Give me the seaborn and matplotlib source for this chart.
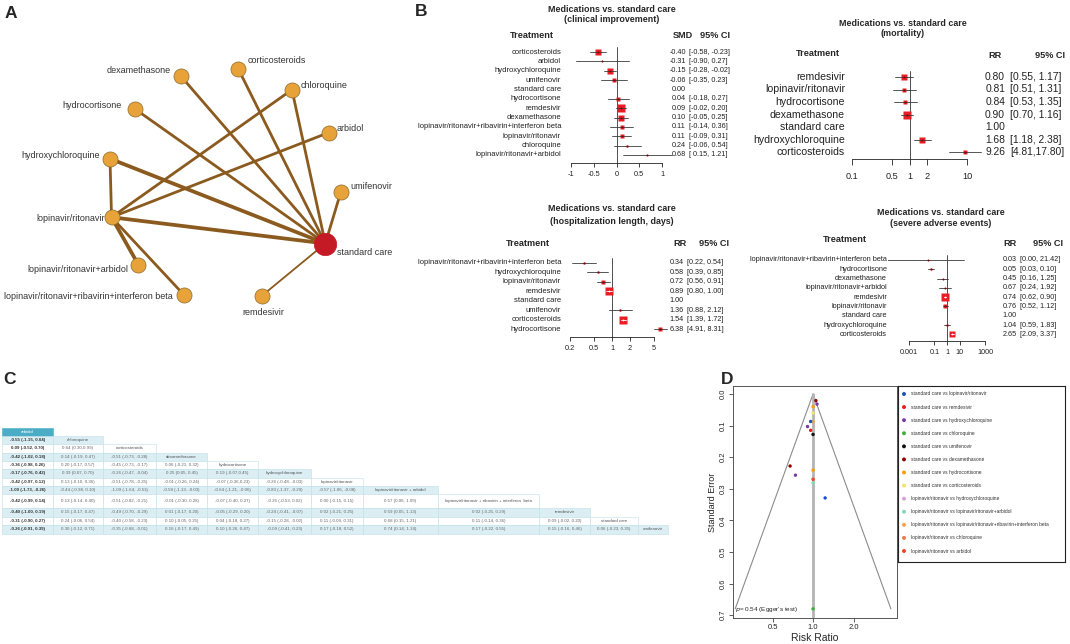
import matplotlib
matplotlib.use("Agg")
import matplotlib.pyplot as plt
import matplotlib.transforms as mtransforms
from matplotlib.patches import Rectangle
import seaborn as sns
import pandas as pd
import numpy as np

W, H = 1070, 644
nan = np.nan

# ---------------- data ----------------
# A: network (treatments in alphabetical order around the circle)
treatments = ["arbidol", "chloroquine", "corticosteroids", "dexamethasone", "hydrocortisone",
              "hydroxychloroquine", "lopinavir/ritonavir", "lopinavir/ritonavir+arbidol",
              "lopinavir/ritonavir+ribavirin+interferon beta", "remdesivir", "standard care", "umifenovir"]
edge_from = ["standard care"] * 8 + ["lopinavir/ritonavir"] * 5
edge_to = ["dexamethasone", "corticosteroids", "chloroquine", "hydrocortisone", "hydroxychloroquine",
           "umifenovir", "lopinavir/ritonavir", "remdesivir",
           "hydroxychloroquine", "chloroquine", "arbidol", "lopinavir/ritonavir+arbidol",
           "lopinavir/ritonavir+ribavirin+interferon beta"]
edge_studies = [2, 2, 2, 2, 3, 2, 3, 1, 2, 2, 2, 3, 2]

# B1: clinical improvement (SMD)
ci_trt = ["corticosteroids", "arbidol", "hydroxychloroquine", "umifenovir", "standard care",
          "hydrocortisone", "remdesivir", "dexamethasone",
          "lopinavir/ritonavir+ribavirin+interferon beta", "lopinavir/ritonavir", "chloroquine",
          "lopinavir/ritonavir+arbidol"]
ci_est = [-0.40, -0.31, -0.15, -0.06, 0.00, 0.04, 0.09, 0.10, 0.11, 0.11, 0.24, 0.68]
ci_lo = [-0.58, -0.90, -0.28, -0.35, nan, -0.18, -0.02, -0.05, -0.14, -0.09, -0.06, 0.15]
ci_hi = [-0.23, 0.27, -0.02, 0.23, nan, 0.27, 0.20, 0.25, 0.36, 0.31, 0.54, 1.21]

# B2: mortality (RR)
mort_trt = ["remdesivir", "lopinavir/ritonavir", "hydrocortisone", "dexamethasone", "standard care",
            "hydroxychloroquine", "corticosteroids"]
mort_est = [0.80, 0.81, 0.84, 0.90, 1.00, 1.68, 9.26]
mort_lo = [0.55, 0.51, 0.53, 0.70, nan, 1.18, 4.81]
mort_hi = [1.17, 1.31, 1.35, 1.16, nan, 2.38, 17.80]

# B3: hospitalization length (RR)
hosp_trt = ["lopinavir/ritonavir+ribavirin+interferon beta", "hydroxychloroquine", "lopinavir/ritonavir",
            "remdesivir", "standard care", "umifenovir", "corticosteroids", "hydrocortisone"]
hosp_est = [0.34, 0.58, 0.72, 0.89, 1.00, 1.36, 1.54, 6.38]
hosp_lo = [0.22, 0.39, 0.56, 0.80, nan, 0.88, 1.39, 4.91]
hosp_hi = [0.54, 0.85, 0.91, 1.00, nan, 2.12, 1.72, 8.31]

# B4: severe adverse events (RR)
sae_trt = ["lopinavir/ritonavir+ribavirin+interferon beta", "hydrocortisone", "dexamethasone",
           "lopinavir/ritonavir+arbidol", "remdesivir", "lopinavir/ritonavir", "standard care",
           "hydroxychloroquine", "corticosteroids"]
sae_est = [0.03, 0.05, 0.45, 0.67, 0.74, 0.76, 1.00, 1.04, 2.65]
sae_lo = [0.000004, 0.03, 0.16, 0.24, 0.62, 0.52, nan, 0.59, 2.09]
sae_hi = [21.42, 0.10, 1.25, 1.92, 0.90, 1.12, nan, 1.83, 3.37]

# C: league table (lower triangle, row by row)
league = [
    ["-0.55 (-1.15, 0.04)"],
    ["0.09 (-0.52, 0.70)", "0.64 (0.30,0.99)"],
    ["-0.42 (-1.02, 0.18)", "0.14 (-0.19, 0.47)", "-0.51 (-0.73, -0.28)"],
    ["-0.36 (-0.98, 0.26)", "0.20 (-0.17, 0.57)", "-0.45 (-0.73, -0.17)", "0.06 (-0.21, 0.32)"],
    ["-0.17 (-0.76, 0.42)", "0.39 (0.07, 0.70)", "-0.26 (-0.47, -0.04)", "0.25 (0.05, 0.45)",
     "0.19 (-0.07,0.45)"],
    ["-0.42 (-0.97, 0.12)", "0.13 (-0.10, 0.36)", "-0.51 (-0.78, -0.25)", "-0.01 (-0.26, 0.24)",
     "-0.07 (-0.36,0.23)", "-0.26 (-0.48, -0.03)"],
    ["-1.00 (-1.73, -0.26)", "-0.44 (-0.98, 0.10)", "-1.09 (-1.64, -0.53)", "-0.58 (-1.13, -0.03)",
     "-0.64 (-1.21, -0.06)", "-0.83 (-1.37, -0.29)", "-0.57 (-1.06, -0.08)"],
    ["-0.42 (-0.99, 0.14)", "0.13 (-0.14, 0.40)", "-0.51 (-0.82, -0.21)", "-0.01 (-0.30, 0.28)",
     "-0.07 (-0.40, 0.27)", "-0.26 (-0.53, 0.02)", "0.00 (-0.15, 0.15)", "0.57 (0.06, 1.09)"],
    ["-0.40 (-1.00, 0.19)", "0.15 (-0.17, 0.47)", "-0.49 (-0.70, -0.29)", "0.01 (-0.17, 0.20)",
     "-0.05 (-0.29, 0.20)", "-0.24 (-0.41, -0.07)", "0.02 (-0.21, 0.25)", "0.59 (0.05, 1.13)",
     "0.02 (-0.25, 0.29)"],
    ["-0.31 (-0.90, 0.27)", "0.24 (-0.06, 0.54)", "-0.40 (-0.58, -0.23)", "0.10 (-0.05, 0.25)",
     "0.04 (-0.18, 0.27)", "-0.15 (-0.28, -0.02)", "0.11 (-0.09, 0.31)", "0.68 (0.15, 1.21)",
     "0.11 (-0.14, 0.36)", "0.09 (-0.02, 0.20)"],
    ["-0.26 (-0.91, 0.39)", "0.30 (-0.12, 0.71)", "-0.35 (-0.68, -0.01)", "0.16 (-0.17, 0.49)",
     "0.10 (-0.26, 0.47)", "-0.09 (-0.41, 0.23)", "0.17 (-0.18, 0.52)", "0.74 (0.14, 1.34)",
     "0.17 (-0.22, 0.55)", "0.15 (-0.16, 0.46)", "0.06 (-0.23, 0.35)"],
]
league_heads = ["arbidol", "chloroquine", "corticosteroids", "dexamethasone", "hydrocortisone",
                "hydroxychloroquine", "lopinavir/ritonavir", "lopinavir/ritonavir + arbidol",
                "lopinavir/ritonavir + ribavirin + interferon  beta", "remdesivir", "standard care",
                "umifenovir"]

# D: funnel plot
comparisons = ["standard care vs lopinavir/ritonavir", "standard care vs remdesivir",
               "standard care vs hydroxychloroquine", "standard care vs chloroquine",
               "standard care vs umifenovir", "standard care vs dexamethasone",
               "standard care vs hydrocortisone", "standard care vs corticosteroids",
               "lopinavir/ritonavir vs hydroxychloroquine",
               "lopinavir/ritonavir vs lopinavir/ritonavir+arbidol",
               "lopinavir/ritonavir vs lopinavir/ritonavir+ribavirin+interferon beta",
               "lopinavir/ritonavir vs chloroquine", "lopinavir/ritonavir vs arbidol"]
funnel_cmp = ["standard care vs dexamethasone", "standard care vs hydroxychloroquine",
              "standard care vs hydrocortisone",
              "lopinavir/ritonavir vs lopinavir/ritonavir+ribavirin+interferon beta",
              "standard care vs lopinavir/ritonavir", "standard care vs hydroxychloroquine",
              "standard care vs remdesivir", "standard care vs umifenovir",
              "standard care vs dexamethasone", "standard care vs hydroxychloroquine",
              "standard care vs hydrocortisone", "lopinavir/ritonavir vs arbidol",
              "lopinavir/ritonavir vs lopinavir/ritonavir+arbidol",
              "standard care vs lopinavir/ritonavir", "standard care vs chloroquine",
              "standard care vs corticosteroids"]
funnel_rr = [1.05, 1.07, 1.00, 1.00, 0.96, 0.91, 0.96, 1.00, 0.675, 0.74, 1.00, 1.00, 1.00, 1.23, 1.00, 1.00]
funnel_se = [0.021, 0.032, 0.040, 0.088, 0.087, 0.103, 0.115, 0.128, 0.228, 0.257, 0.241, 0.270,
             0.282, 0.329, 0.680, 0.060]
egger_p = 0.54
funnel_se_max = 0.68

# ---------------- styling ----------------
cmp_colors = ["#1c4fc4", "#f01a1a", "#7a3aa8", "#3cb034", "#111111", "#990000", "#ff9a00",
              "#f2e36a", "#d9a0d8", "#86d7b8", "#f5a04a", "#f2784a", "#ee4422"]
palette = dict(zip(comparisons, cmp_colors))

sns.set_theme(style="white")
plt.rcParams['font.family'] = ['Liberation Sans', 'DejaVu Sans']

fig = plt.figure(figsize=(W / 100, H / 100), dpi=100, facecolor='white')


def fx(px):
    return px / W


def fy(py):
    return 1 - py / H


def pixel_axes(x0, y0, x1, y1):
    ax = fig.add_axes([fx(x0), fy(y1), (x1 - x0) / W, (y1 - y0) / H])
    ax.set_xlim(x0, x1)
    ax.set_ylim(y1, y0)
    ax.axis('off')
    return ax


# panel letters
for letter, (lx, ly) in {"A": (11, 14), "B": (421, 12), "C": (10, 379), "D": (727, 379)}.items():
    fig.text(fx(lx), fy(ly), letter, fontsize=12.5, fontweight='bold', ha='center', va='center')

# ---------------- A: network ----------------
axA = pixel_axes(0, 30, 420, 340)
node_angle = {"arbidol": 26.6, "chloroquine": 54.5, "corticosteroids": 83, "dexamethasone": 111.6,
              "hydrocortisone": 139.5, "hydroxychloroquine": 167, "lopinavir/ritonavir": 196,
              "lopinavir/ritonavir+arbidol": 223,
              "lopinavir/ritonavir+ribavirin+interferon beta": 250, "remdesivir": 289,
              "standard care": 330, "umifenovir": 356.5}
cx, cy, rad = 224, 185, 117
pos = {t: (cx + rad * np.cos(np.radians(a)), cy - rad * np.sin(np.radians(a))) for t, a in node_angle.items()}
for a, b, n in zip(edge_from, edge_to, edge_studies):
    axA.plot([pos[a][0], pos[b][0]], [pos[a][1], pos[b][1]], color='#8b5a1e',
             lw=0.6 + 0.7 * n, solid_capstyle='butt', zorder=1)
nodes = pd.DataFrame({"x": [pos[t][0] for t in treatments], "y": [pos[t][1] for t in treatments],
                      "hub": [t == "standard care" for t in treatments]})
sns.scatterplot(data=nodes[~nodes.hub], x="x", y="y", s=118, color='#e8a23a', edgecolor='#8a6a2a',
                linewidth=0.5, ax=axA, zorder=2, legend=False)
sns.scatterplot(data=nodes[nodes.hub], x="x", y="y", s=260, color='#c31a26', edgecolor='#c31a26',
                linewidth=0.5, ax=axA, zorder=2, legend=False)
axA.axis('off')
label_place = {"dexamethasone": ('right', -10, -6), "corticosteroids": ('left', 9, -8),
               "chloroquine": ('left', 9, -4), "hydrocortisone": ('right', -13, -4),
               "arbidol": ('left', 8, -4), "hydroxychloroquine": ('right', -10, -3),
               "umifenovir": ('left', 10, -6), "lopinavir/ritonavir": ('right', -7, 1),
               "standard care": ('left', 12, 9), "lopinavir/ritonavir+arbidol": ('right', -10, 5),
               "lopinavir/ritonavir+ribavirin+interferon beta": ('right', -11, 2),
               "remdesivir": ('center', 1, 17)}
for t in treatments:
    ha, dx, dy = label_place[t]
    axA.text(pos[t][0] + dx, pos[t][1] + dy, t, ha=ha, va='center', fontsize=6.5, color='#333333')


# ---------------- B: forest plots ----------------
def forest(trt, est, lo, hi, sp):
    log = sp['log']
    f = np.log10 if log else (lambda v: v)
    (v1, p1), (v2, p2) = sp['xmap']
    slope = (p2 - p1) / (f(v2) - f(v1))

    def inv(p):
        t = f(v1) + (p - p1) / slope
        return 10 ** t if log else t

    L, R = sp['span']
    top, axis_y, row0, dy = sp['top'], sp['axis_y'], sp['row0'], sp['dy']
    ax = fig.add_axes([fx(L), fy(axis_y), (R - L) / W, (axis_y - top) / H])
    ax.patch.set_alpha(0)
    if log:
        ax.set_xscale('log')
    ax.set_xlim(inv(L), inv(R))
    ybot = (axis_y - row0) / dy
    ax.set_ylim(ybot, (top - row0) / dy)
    for s in ['left', 'right', 'top']:
        ax.spines[s].set_visible(False)
    ax.spines['bottom'].set_bounds(sp['ticks'][0], sp['ticks'][-1])
    ax.spines['bottom'].set_linewidth(0.6)
    ax.spines['bottom'].set_color('#222222')
    ax.set_xticks(sp['ticks'])
    ax.set_xticklabels(sp['ticklabels'], fontsize=sp['fs_tick'], color='#222222')
    ax.minorticks_off()
    ax.tick_params(axis='x', which='both', bottom=True, length=sp['tick_len'] * 0.72, width=0.6,
                   pad=sp['tick_pad'], direction='out', color='#222222')
    ax.set_yticks([])
    ref = 1 if log else 0
    ax.plot([ref, ref], [(sp['ref_top'] - row0) / dy, ybot], color='#333333', lw=0.6, clip_on=False)
    trans = mtransforms.blended_transform_factory(fig.transFigure, ax.transData)
    for i, (name, e, l, h) in enumerate(zip(trt, est, lo, hi)):
        ax.text(fx(sp['label_x']), i, name, transform=trans, ha='right', va='center',
                fontsize=sp['fs_lab'], color='#222222')
        ax.text(fx(sp['est_x']), i, f"{e:.2f}", transform=trans, ha='right', va='center',
                fontsize=sp['fs_val'], color='#222222')
        if np.isnan(l):
            continue
        ax.text(fx(sp['ci_x']), i, sp['ci_fmt'].format(l, h), transform=trans, ha='left',
                va='center', fontsize=sp['fs_val'], color='#222222')
        width = np.log(h / l) if log else (h - l)
        side = float(np.clip(sp['k'] / width, 1.4, 9.5))
        inside = side > slope * (f(h) - f(l))
        ax.plot(e, i, marker='s', ms=side * 0.72, color='#ea1c24', mec='none', zorder=3)
        ax.plot([l, h], [i, i], color='white' if inside else '#3a3a3a', lw=0.6, zorder=4)
        ax.plot(e, i, marker='o', ms=1.3, color='white' if inside else '#7a0000', mec='none', zorder=5)
    fig.text(fx(sp['title_x']), fy(sp['title_y'][0]), "Medications vs. standard care", ha='center',
             va='center', fontsize=6.4, fontweight='bold')
    fig.text(fx(sp['title_x']), fy(sp['title_y'][1]), sp['subtitle'], ha='center', va='center',
             fontsize=6.4, fontweight='bold')
    fig.text(fx(sp['treat_x']), fy(sp['head_y']), "Treatment", ha='center', va='center',
             fontsize=6.6, fontweight='bold')
    for txt, hx in sp['heads']:
        fig.text(fx(hx), fy(sp['head_y2']), txt, ha='center', va='center', fontsize=6.6,
                 fontweight='bold')
    return ax


forest(ci_trt, ci_est, ci_lo, ci_hi, dict(
    log=False, xmap=((-1, 571), (1, 662)), span=(560, 682), top=46, axis_y=163, row0=52, dy=9.36,
    ticks=[-1, -0.5, 0, 0.5, 1], ticklabels=["-1", "-0.5", "0", "0.5", "1"], fs_tick=5.3,
    tick_len=4, tick_pad=3, ref_top=47, label_x=561, est_x=686, ci_x=689, fs_lab=5.5, fs_val=5.2,
    ci_fmt="[{:5.2f}, {:.2f}]", k=1.76, title_x=612, title_y=(10, 20),
    subtitle="(clinical improvement)", treat_x=532, head_y=35, head_y2=35,
    heads=[("SMD", 683), ("95% CI", 715)]))

forest(mort_trt, mort_est, mort_lo, mort_hi, dict(
    log=True, xmap=((0.1, 852), (10, 967)), span=(846, 992), top=68, axis_y=159, row0=77, dy=12.5,
    ticks=[0.1, 0.5, 1, 2, 10], ticklabels=["0.1", "0.5", "1", "2", "10"], fs_tick=6.6,
    tick_len=6, tick_pad=5, ref_top=71, label_x=845, est_x=1005, ci_x=1010, fs_lab=7.6, fs_val=7.4,
    ci_fmt="[{:.2f},{:5.2f}]", k=4.5, title_x=903, title_y=(23, 34), subtitle="(mortality)",
    treat_x=818, head_y=54, head_y2=56, heads=[("RR", 995), ("95% CI", 1050)]))

forest(hosp_trt, hosp_est, hosp_lo, hosp_hi, dict(
    log=True, xmap=((0.2, 570), (5, 654)), span=(562, 682), top=256, axis_y=337, row0=263, dy=9.43,
    ticks=[0.2, 0.5, 1, 2, 5], ticklabels=["0.2", "0.5", "1", "2", "5"], fs_tick=5.3,
    tick_len=4, tick_pad=3, ref_top=258, label_x=561, est_x=684, ci_x=687, fs_lab=5.5, fs_val=5.2,
    ci_fmt="[{:.2f}, {:.2f}]", k=1.76, title_x=612, title_y=(209, 221),
    subtitle="(hospitalization length, days)", treat_x=528, head_y=243, head_y2=244,
    heads=[("RR", 680), ("95% CI", 714)]))

forest(sae_trt, sae_est, sae_lo, sae_hi, dict(
    log=True, xmap=((0.001, 909), (1000, 985)), span=(888, 1000), top=253, axis_y=341, row0=260,
    dy=9.29, ticks=[0.001, 0.1, 1, 10, 1000], ticklabels=["0.001", "0.1", "1", "10", "1000"],
    fs_tick=5.2, tick_len=4, tick_pad=3, ref_top=255, label_x=887, est_x=1017, ci_x=1020,
    fs_lab=5.3, fs_val=5.2, ci_fmt="[{:.2f}, {:.2f}]", k=3.0, title_x=941, title_y=(212, 224),
    subtitle="(severe adverse events)", treat_x=845, head_y=240, head_y2=243,
    heads=[("RR", 1010), ("95% CI", 1048)]))

# ---------------- C: league table ----------------
axC = pixel_axes(0, 420, 700, 545)
col_edges = [2, 53, 103, 156, 207, 258, 311, 363, 438, 539, 590, 638, 668]
row_edges = [428, 436, 444.3, 452.6, 460.9, 469.2, 477.5, 485.8, 494, 508, 516.5, 525, 533.5]
axC.add_patch(Rectangle((col_edges[0], row_edges[0]), col_edges[1] - col_edges[0],
                        row_edges[1] - row_edges[0], facecolor='#4bacc6', edgecolor='#4bacc6', lw=0.4))
axC.text((col_edges[0] + col_edges[1]) / 2, (row_edges[0] + row_edges[1]) / 2, league_heads[0],
         ha='center', va='center', fontsize=3.2, color='white')
for r, cells in enumerate(league, start=1):
    y0, y1 = row_edges[r], row_edges[r + 1]
    fill = '#daeef3' if r % 2 == 1 else 'white'
    for c in range(r + 1):
        x0, x1 = col_edges[c], col_edges[c + 1]
        axC.add_patch(Rectangle((x0, y0), x1 - x0, y1 - y0, facecolor=fill, edgecolor='#bfe0ea', lw=0.4))
        if c < r:
            txt, col, wt = cells[c], ('#333333' if c == 0 else '#666666'), ('bold' if c == 0 else 'normal')
        else:
            txt, col, wt = league_heads[r], '#555555', 'normal'
        axC.text((x0 + x1) / 2, (y0 + y1) / 2, txt, ha='center', va='center', fontsize=3.2,
                 color=col, fontweight=wt)

# ---------------- D: funnel plot ----------------
axD = fig.add_axes([fx(733), fy(618), (897 - 733) / W, (618 - 386) / H])
axD.set_xscale('log')
axD.set_xlim(0.254, 4.21)
axD.set_ylim(0.709, -0.0253)
axD.plot([np.exp(-1.96 * funnel_se_max), 1, np.exp(1.96 * funnel_se_max)],
         [funnel_se_max, 0, funnel_se_max], color='#8c8c8c', lw=0.8, zorder=1)
axD.plot([1, 1], [0, 0.72], color='#b4b4b4', lw=2.0, zorder=2)
funnel_df = pd.DataFrame({"rr": funnel_rr, "se": funnel_se, "comparison": funnel_cmp})
sns.scatterplot(data=funnel_df, x="rr", y="se", hue="comparison", palette=palette, s=6,
                edgecolor='none', legend=False, ax=axD, zorder=3)
axD.minorticks_off()
axD.set_xticks([0.5, 1, 2])
axD.set_xticklabels(["0.5", "1.0", "2.0"], fontsize=5.5)
axD.set_yticks(np.round(np.arange(0, 0.71, 0.1), 1))
axD.set_yticklabels([f"{v:.1f}" for v in np.arange(0, 0.71, 0.1)], fontsize=5.5, rotation=90, va='center')
axD.tick_params(axis='both', which='both', length=3, width=0.6, pad=1.5, bottom=True, left=True,
                color='#444444')
axD.set_xlabel("Risk Ratio", fontsize=7.5, labelpad=1)
axD.set_ylabel("Standard Error", fontsize=6.5, labelpad=2)
for s in axD.spines.values():
    s.set_color('#555555')
    s.set_linewidth(0.7)
axD.text(0.012, 0.035, r"$\it{p}$= " + f"{egger_p:.2f} (Egger's test)", transform=axD.transAxes,
         fontsize=4.6, va='center', ha='left')

# legend box
axL = fig.add_axes([fx(898), fy(562), (1065 - 898) / W, (562 - 386) / H])
axL.set_xlim(898, 1065)
axL.set_ylim(562, 386)
axL.set_xticks([])
axL.set_yticks([])
for s in axL.spines.values():
    s.set_color('#222222')
    s.set_linewidth(0.8)
leg_y = np.linspace(394, 551, len(comparisons))
leg_df = pd.DataFrame({"x": [904] * len(comparisons), "y": leg_y, "comparison": comparisons})
sns.scatterplot(data=leg_df, x="x", y="y", hue="comparison", palette=palette, s=8, edgecolor='none',
                legend=False, ax=axL)
axL.set_xlabel("")
axL.set_ylabel("")
for yv, name in zip(leg_y, comparisons):
    axL.text(911, yv, name, fontsize=3.5, va='center', ha='left', color='#333333')

fig.savefig("out.png", dpi=100, facecolor='white')
